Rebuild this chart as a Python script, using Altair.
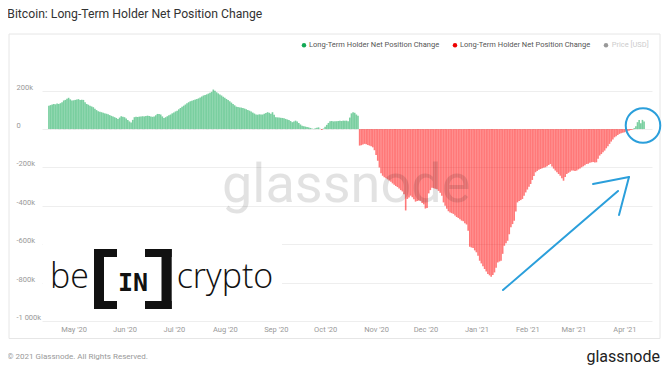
import altair as alt
import pandas as pd

title_text = "Bitcoin: Long-Term Holder Net Position Change"
series_name = "Long-Term Holder Net Position Change"
price_name = "Price [USD]"
footer_text = "\u00a9 2021 Glassnode. All Rights Reserved."
brand_text = "glassnode"
start_date = "2020-04-16"

# daily net position change, thousands of BTC
values_k = [
    122, 125, 128, 131, 129, 133, 131, 135, 140, 149,
    152, 158, 163, 155, 149, 150, 152, 154, 156, 151,
    153, 152, 140, 131, 127, 122, 118, 114, 106, 99,
    93, 90, 88, 85, 82, 80, 77, 73, 69, 66,
    62, 58, 53, 60, 67, 64, 62, 55, 47, 40,
    34, 48, 62, 64, 63, 65, 65, 67, 66, 68,
    70, 68, 66, 64, 65, 72, 79, 78, 76, 66,
    58, 62, 67, 72, 76, 82, 87, 92, 96, 103,
    110, 116, 122, 128, 134, 140, 145, 148, 151, 154,
    157, 160, 165, 170, 175, 178, 181, 185, 189, 194,
    206, 200, 192, 186, 180, 175, 169, 163, 157, 151,
    145, 138, 131, 124, 117, 115, 113, 112, 110, 107,
    103, 99, 96, 91, 86, 81, 76, 75, 77, 76,
    76, 80, 84, 88, 85, 80, 88, 75, 62, 61,
    60, 59, 58, 56, 53, 50, 48, 42, 36, 40,
    44, 40, 32, 24, 18, 15, 13, 11, 9, 6,
    3, 1, 4, 7, 9, 2, -5, 3, 12, 22,
    32, 41, 42, 40, 41, 41, 42, 43, 42, 44,
    43, 44, 41, 60, 82, 88, 85, 76, 70,
    -86, -84, -80, -77, -79, -83, -86, -90, -95, -110, -135,
    -165, -200, -230, -243, -251, -256, -262, -268, -275, -283,
    -290, -296, -302, -310, -318, -325, -340, -424, -364, -356,
    -347, -355, -365, -378, -375, -372, -374, -385, -392, -414,
    -411, -335, -318, -306, -308, -311, -314, -322, -332, -347,
    -382, -400, -415, -428, -434, -438, -442, -450, -458, -463,
    -470, -477, -480, -490, -497, -530, -613, -617, -620, -632,
    -642, -660, -686, -700, -715, -729, -742, -755, -762, -769,
    -760, -747, -722, -695, -690, -686, -650, -608, -595, -582,
    -548, -512, -495, -477, -430, -382, -375, -370, -364, -348,
    -330, -315, -300, -286, -265, -245, -225, -218, -212, -208,
    -204, -201, -199, -193, -187, -182, -195, -206, -216, -225,
    -234, -243, -256, -269, -250, -234, -228, -222, -216, -216,
    -218, -216, -210, -205, -199, -194, -188, -182, -180, -176,
    -173, -172, -174, -173, -155, -138, -130, -121, -112, -100,
    -89, -77, -65, -54, -43, -37, -31, -25, -22, -19,
    -17, -14, -11, -8, -5, -3,
    5, 15, 36, 48, 30, 48, 40,
]

y_ticks = [200, 0, -200, -400, -600, -800, -1000]
y_tick_labels = ["200k", "0", "-200k", "-400k", "-600k", "-800k", "-1 000k"]
month_ticks = ["2020-05-01", "2020-06-01", "2020-07-01", "2020-08-01", "2020-09-01",
               "2020-10-01", "2020-11-01", "2020-12-01", "2021-01-01", "2021-02-01",
               "2021-03-01", "2021-04-01"]
x_domain = ["2020-04-14T20:21:00", "2021-04-14T18:29:00"]
y_domain = [-1000, 360]

GREEN = "#12a955"
RED = "#ff1010"
BLUE = "#2b9fdb"
FONT = "Roboto"


def ms(s):
    return int(pd.Timestamp(s, tz="UTC").value // 10**6)


dates = pd.date_range(start_date, periods=len(values_k), freq="D")
df = pd.DataFrame({
    "date": dates.strftime("%Y-%m-%d"),
    "value": values_k,
    "sign": ["pos" if v >= 0 else "neg" for v in values_k],
})

label_expr = " : ".join(f"datum.value == {v} ? '{l}'" for v, l in zip(y_ticks, y_tick_labels)) + " : ''"

bars = alt.Chart(df).mark_bar(width=1.6, opacity=0.56).encode(
    x=alt.X("date:T",
            scale=alt.Scale(type="utc", domain=[ms(d) for d in x_domain]),
            axis=alt.Axis(values=[ms(m) for m in month_ticks], format="%b '%y",
                          grid=False, domain=False, ticks=False, labelPadding=4,
                          labelFontSize=7.5, labelColor="#999999", labelFont=FONT,
                          labelOverlap=False, labelFlush=False, title=None)),
    y=alt.Y("value:Q",
            scale=alt.Scale(domain=y_domain, nice=False, zero=True),
            axis=alt.Axis(values=y_ticks, labelExpr=label_expr, grid=True,
                          gridColor="#eeeeee", domain=False, ticks=False, tickSize=0,
                          labelPadding=26, labelAlign="left", labelOffset=-3.5,
                          labelFontSize=7.5, labelColor="#999999", labelFont=FONT,
                          title=None)),
    color=alt.Color("sign:N", scale=alt.Scale(domain=["pos", "neg"], range=[GREEN, RED]),
                    legend=None),
)

one = pd.DataFrame({"k": [0]})


def txt(text, x, y, size, color, align="left", baseline="alphabetic", font=FONT,
        weight="normal", opacity=1.0):
    return alt.Chart(one).mark_text(text=text, align=align, baseline=baseline, font=font,
                                    fontSize=size, color=color, fontWeight=weight,
                                    opacity=opacity).encode(
        x=alt.value(x), y=alt.value(y))


def rect(x, x2, y, y2, **kw):
    return alt.Chart(one).mark_rect(**kw).encode(
        x=alt.value(x), x2=alt.value(x2), y=alt.value(y), y2=alt.value(y2))


def rule(x, y, x2, y2, color=BLUE, width=2):
    return alt.Chart(one).mark_rule(color=color, strokeWidth=width, strokeCap="round").encode(
        x=alt.value(x), y=alt.value(y), x2=alt.value(x2), y2=alt.value(y2))


frame = rect(-33, 618, -26, 278.5, fillOpacity=0, stroke="#e6e6e6", strokeWidth=1)

watermark = txt(brand_text, 180, 142, 54, "#000000", opacity=0.11)

logo_bg = rect(1, 240, 180, 256, color="white")
be = txt("be", 8, 228.3, 34, "#111111", font="Open Sans", weight=300)
crypto = txt("crypto", 134.7, 228.3, 34, "#111111", font="Open Sans", weight=300)
inn = txt("IN", 91, 230.5, 25, "#111111", align="center", font="DejaVu Sans Mono", weight="bold")
brackets = [
    rect(52, 62, 189, 249, color="#111111"),
    rect(52, 75, 189, 197, color="#111111"),
    rect(52, 75, 241, 249, color="#111111"),
    rect(119.5, 129.7, 189, 249, color="#111111"),
    rect(103, 129.7, 189, 197, color="#111111"),
    rect(103, 129.7, 241, 249, color="#111111"),
]

arrow = [
    rule(461, 230, 576, 131),
    rule(551, 124, 587, 117),
    rule(587, 117, 577, 155),
]
circle = alt.Chart(one).mark_point(shape="circle", filled=False, size=1194, stroke=BLUE,
                                   strokeWidth=2, opacity=1).encode(
    x=alt.value(601), y=alt.value(65.5))

legend = [
    alt.Chart(one).mark_point(shape="circle", filled=True, size=20, color=GREEN, opacity=1).encode(
        x=alt.value(262), y=alt.value(-14.7)),
    txt(series_name, 267, -14.7, 7.5, "#555555", baseline="middle"),
    alt.Chart(one).mark_point(shape="circle", filled=True, size=20, color="#ee0000", opacity=1).encode(
        x=alt.value(413), y=alt.value(-14.7)),
    txt(series_name, 418, -14.7, 7.5, "#555555", baseline="middle"),
    alt.Chart(one).mark_point(shape="circle", filled=True, size=20, color="#999999", opacity=1).encode(
        x=alt.value(564), y=alt.value(-14.7)),
    txt(price_name, 569.7, -14.7, 7.5, "#cccccc", baseline="middle"),
]

title = txt(title_text, -34.7, -42.3, 12.2, "#333333")
footer = txt(footer_text, -34.7, 296.7, 8, "#999999", baseline="middle")
brand = txt(brand_text, 618, 301.7, 16, "#222222", align="right")

chart = alt.layer(
    frame, bars, watermark, logo_bg, be, crypto, inn, *brackets, *arrow, circle,
    *legend, title, footer, brand,
).properties(
    width=610, height=261,
    padding={"left": 34, "top": 52, "right": 11, "bottom": 47},
    autosize=alt.AutoSizeParams(type="none"),
).configure_view(strokeWidth=0)

chart.save("out.html", embed_options={"renderer": "svg", "actions": False})
